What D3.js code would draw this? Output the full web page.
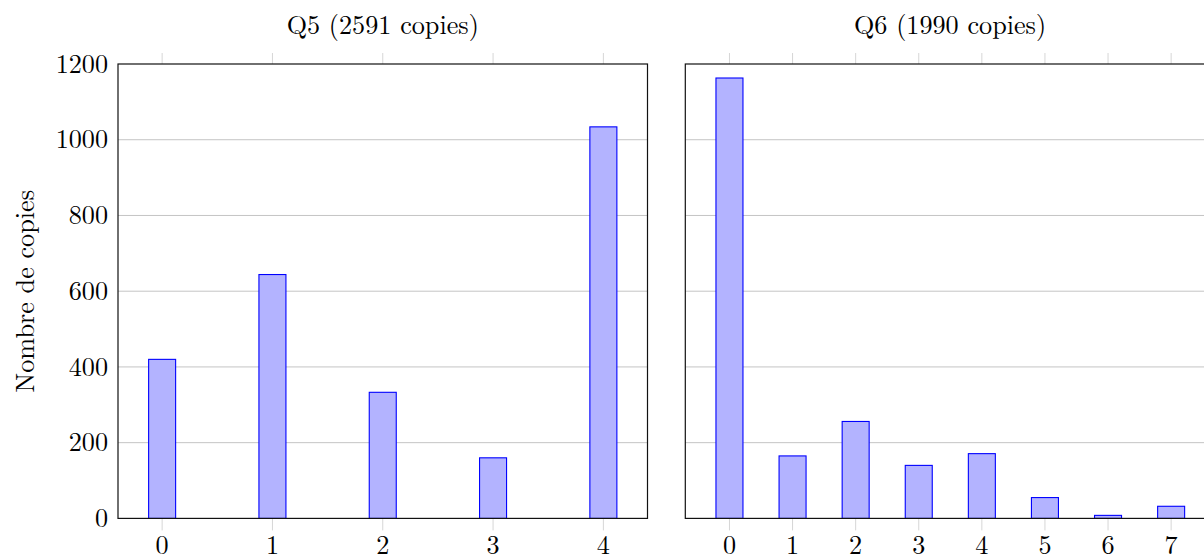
<!DOCTYPE html>
<html>
<head>
<meta charset="utf-8">
<script src="https://cdn.jsdelivr.net/npm/d3@7"></script>
<style>
  html, body { margin: 0; padding: 0; background: #fff; }
  svg { display: block; }
</style>
</head>
<body>
<svg id="chart" width="1204" height="558"></svg>
<script>
// Question 5: number of papers per score
const q5Categories = [0, 1, 2, 3, 4];
const q5Values = [420, 644, 333, 160, 1034];
const q5Title = "Q5 (2591 copies)";

// Question 6: number of papers per score
const q6Categories = [0, 1, 2, 3, 4, 5, 6, 7];
const q6Values = [1163, 165, 256, 140, 171, 55, 8, 32];
const q6Title = "Q6 (1990 copies)";

const yTicks = [0, 200, 400, 600, 800, 1000, 1200];
const yLabel = "Nombre de copies";

const svg = d3.select("#chart");
const plotTop = 64, plotBottom = 518.4;
const fontSize = 26.2;
const barWidth = 27;
const serif = "'Latin Modern Roman', 'Liberation Serif', serif";

const y = d3.scaleLinear().domain([0, 1200]).range([plotBottom, plotTop]);

function label(sel) {
  return sel.style("font-family", serif).style("font-size", fontSize + "px").attr("fill", "#000");
}

function panel(cfg) {
  const g = svg.append("g");
  const x = d3.scaleLinear().domain(cfg.domain).range([cfg.left, cfg.left + cfg.width]);

  // horizontal grid lines
  g.append("g").selectAll("line").data(yTicks.filter(t => t > 0 && t < 1200)).join("line")
    .attr("x1", cfg.left).attr("x2", cfg.left + cfg.width)
    .attr("y1", d => y(d)).attr("y2", d => y(d))
    .attr("stroke", "#c4c4c4").attr("stroke-width", 1);

  // x tick marks outside the frame, top and bottom
  const tk = g.append("g").attr("stroke", "#d6d6d6").attr("stroke-width", 1);
  tk.selectAll("line.t").data(cfg.categories).join("line").attr("class", "t")
    .attr("x1", d => x(d)).attr("x2", d => x(d)).attr("y1", plotTop - 11).attr("y2", plotTop);
  tk.selectAll("line.b").data(cfg.categories).join("line").attr("class", "b")
    .attr("x1", d => x(d)).attr("x2", d => x(d)).attr("y1", plotBottom).attr("y2", plotBottom + 12);

  // bars
  g.append("g").selectAll("rect").data(cfg.values).join("rect")
    .attr("x", (d, i) => x(cfg.categories[i]) - barWidth / 2)
    .attr("width", barWidth)
    .attr("y", d => y(d))
    .attr("height", d => y(0) - y(d))
    .attr("fill", "#b3b3ff")
    .attr("stroke", "#0000ff")
    .attr("stroke-width", 1.1);

  // frame
  g.append("rect")
    .attr("x", cfg.left).attr("y", plotTop)
    .attr("width", cfg.width).attr("height", plotBottom - plotTop)
    .attr("fill", "none").attr("stroke", "#111").attr("stroke-width", 1.2);

  // x tick labels
  g.append("g").selectAll("text").data(cfg.categories).join("text")
    .attr("x", d => x(d)).attr("y", 553.5)
    .attr("text-anchor", "middle")
    .call(label)
    .text(d => d);

  // panel title
  g.append("text")
    .attr("x", cfg.left + 529.5 / 2).attr("y", 33.5)
    .attr("text-anchor", "middle")
    .call(label)
    .text(cfg.title);

  if (cfg.yAxis) {
    g.append("g").selectAll("text").data(yTicks).join("text")
      .attr("x", cfg.left - 10).attr("y", d => y(d) + 8.6)
      .attr("text-anchor", "end")
      .call(label)
      .text(d => d);

    g.append("text")
      .attr("transform", `translate(33.5, ${(plotTop + plotBottom) / 2}) rotate(-90)`)
      .attr("text-anchor", "middle")
      .call(label)
      .text(yLabel);
  }
}

panel({ left: 118, width: 529.5, domain: [-0.4, 4.4], categories: q5Categories, values: q5Values, title: q5Title, yAxis: true });
panel({ left: 685.3, width: 530, domain: [-0.7, 7.7], categories: q6Categories, values: q6Values, title: q6Title, yAxis: false });
</script>
</body>
</html>
